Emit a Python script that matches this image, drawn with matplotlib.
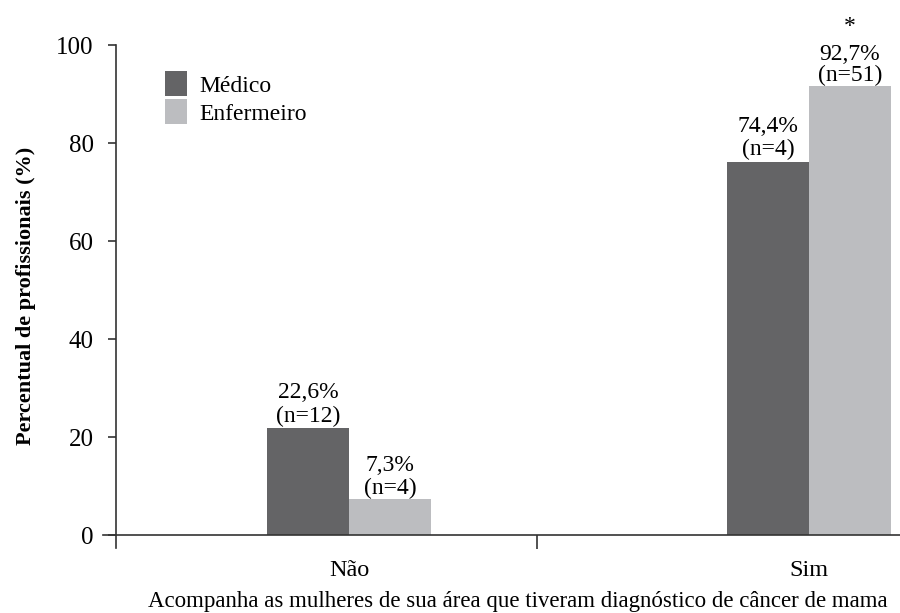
import matplotlib
matplotlib.use("Agg")
import matplotlib.pyplot as plt
import numpy as np

plt.rcParams['font.family'] = ['Liberation Serif', 'DejaVu Serif']

# data
categories = ['Não', 'Sim']
series = ['Médico', 'Enfermeiro']
medico = [21.8, 76.2]        # bar heights as drawn
enfermeiro = [7.3, 91.7]
medico_labels = ['22,6%\n(n=12)', '74,4%\n(n=4)']
enfermeiro_labels = ['7,3%\n(n=4)', '92,7%\n(n=51)']
star_on = [False, True]
yticks = [0, 20, 40, 60, 80, 100]

c_med = '#646466'
c_enf = '#bcbdc0'
c_ax = '#333333'

fig = plt.figure(figsize=(9, 6.13), dpi=100)
ax = fig.add_axes([116/900, 78/613, 784/900, 490/613])

x = np.arange(len(categories))
w = 0.178
b1 = ax.bar(x - w/2, medico, w, color=c_med, label=series[0])
b2 = ax.bar(x + w/2, enfermeiro, w, color=c_enf, label=series[1])

for rect, txt in zip(b1, medico_labels):
    ax.annotate(txt, (rect.get_x() + rect.get_width()/2, rect.get_height()),
                xytext=(0, 1), textcoords='offset points', ha='center',
                va='bottom', fontsize=17, linespacing=1.15)
for rect, txt, star in zip(b2, enfermeiro_labels, star_on):
    xc = rect.get_x() + rect.get_width()/2
    ls = 0.95 if star else 1.15
    ax.annotate(txt, (xc, rect.get_height()), xytext=(0, 0),
                textcoords='offset points', ha='center', va='bottom',
                fontsize=17, linespacing=ls)
    if star:
        ax.annotate('*', (xc, rect.get_height()), xytext=(0, 35),
                    textcoords='offset points', ha='center', va='bottom',
                    fontsize=17)

ax.set_xlim(-0.5065, 1.198)
ax.set_ylim(0, 100)
ax.set_yticks(yticks)
ax.tick_params(axis='y', labelsize=18, length=6, width=1.2, color=c_ax,
               pad=10)

# single tick between the groups, category names as minor labels
ax.set_xticks([0.4087])
ax.set_xticklabels([''])
ax.tick_params(axis='x', which='major', length=10, width=1.2, color=c_ax,
               direction='out')
ax.set_xticks(x, minor=True)
ax.set_xticklabels(categories, minor=True, fontsize=17.5)
ax.tick_params(axis='x', which='minor', length=0, pad=18)

for s in ['top', 'right']:
    ax.spines[s].set_visible(False)
for s in ['left', 'bottom']:
    ax.spines[s].set_color(c_ax)
    ax.spines[s].set_linewidth(1.2)
ax.spines['left'].set_bounds(-2.6, 100)
ax.spines['bottom'].set_bounds(-0.535, 1.198)

ax.set_ylabel('Percentual de profissionais (%)', fontsize=16,
              fontweight='bold')
ax.yaxis.set_label_coords(-0.102, 0.488)
ax.set_xlabel('Acompanha as mulheres de sua área que tiveram diagnóstico '
              'de câncer de mama', fontsize=16.5)
ax.xaxis.set_label_coords(0.513, -0.115)

ax.legend(loc='upper left', bbox_to_anchor=(0.035, 0.99), frameon=False,
          fontsize=17, handlelength=0.95, handleheight=1.25,
          handletextpad=0.5, labelspacing=0.12)

fig.savefig('out.png', dpi=100)
